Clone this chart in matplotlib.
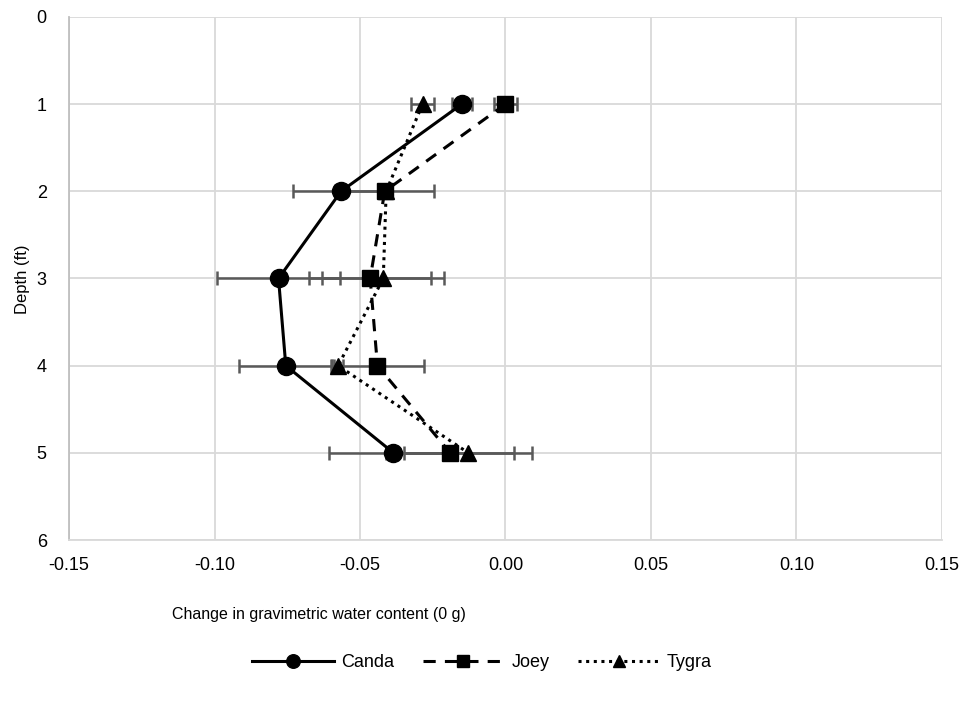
import matplotlib.pyplot as plt
from matplotlib.lines import Line2D

plt.rcParams['font.family'] = ['Liberation Sans', 'DejaVu Sans']

depth = [1, 2, 3, 4, 5]

canda = [-0.015, -0.0565, -0.078, -0.0755, -0.0385]
canda_err = [0.0035, 0.0165, 0.0213, 0.016, 0.022]

joey = [0.000, -0.0415, -0.0465, -0.044, -0.019]
joey_err = [0.0038, 0.017, 0.021, 0.016, 0.022]

tygra = [-0.0285, -0.041, -0.042, -0.0575, -0.0128]
tygra_err = [0.0038, 0.0015, 0.021, 0.0015, 0.022]

xticks = [-0.15, -0.10, -0.05, 0.00, 0.05, 0.10, 0.15]

fig = plt.figure(figsize=(9.64, 7.05), dpi=100)
ax = fig.add_axes([0.0716, 0.234, 0.9055, 0.742])

series = [
    ('Canda', canda, canda_err, '-', 'o', 13),
    ('Joey', joey, joey_err, (0, (4, 3)), 's', 11.5),
    ('Tygra', tygra, tygra_err, (0, (1, 1.5)), '^', 12),
]

# error bars first, then the lines with markers over them
for nombre, vals, errs, ls, mk, ms in series:
    ax.errorbar(vals, depth, xerr=errs, fmt='none', ecolor='#595959',
                elinewidth=1.8, capsize=5, capthick=1.8, zorder=2)

for nombre, vals, errs, ls, mk, ms in series:
    ax.plot(vals, depth, color='black', linestyle=ls, linewidth=2.2,
            marker=mk, markersize=ms, zorder=3, label=nombre)

ax.set_xlim(-0.15, 0.15)
ax.set_ylim(6, 0)
ax.set_xticks(xticks)
ax.set_xticklabels([f'{t:.2f}' for t in xticks], fontsize=13)
ax.set_yticks(range(7))
ax.set_yticklabels([str(i) for i in range(7)], fontsize=13)
ax.tick_params(length=0, pad=12)
ax.tick_params(axis='y', pad=16)
ax.grid(True, color='#d9d9d9', linewidth=1.3)
ax.set_axisbelow(True)
for lado in ['top', 'right']:
    ax.spines[lado].set_visible(False)
ax.spines['left'].set_color('#bfbfbf')
ax.spines['bottom'].set_color('#d9d9d9')
ax.spines['left'].set_linewidth(1.3)
ax.spines['bottom'].set_linewidth(1.3)

fig.text(0.331, 0.129, 'Change in gravimetric water content (0 g)',
         fontsize=11.5, ha='center', va='center')
fig.text(0.023, 0.604, 'Depth (ft)', fontsize=12, rotation=90,
         ha='center', va='center')

handles = [Line2D([], [], color='black', linestyle=ls, linewidth=2.2,
                  marker=mk, markersize=ms * 0.75)
           for nombre, vals, errs, ls, mk, ms in series]
fig.legend(handles, [s[0] for s in series], loc='center',
           bbox_to_anchor=(0.5, 0.06), ncol=3, frameon=False, fontsize=13,
           handlelength=4.5, columnspacing=1.6, handletextpad=0.4)

fig.savefig('out.png', dpi=100)
